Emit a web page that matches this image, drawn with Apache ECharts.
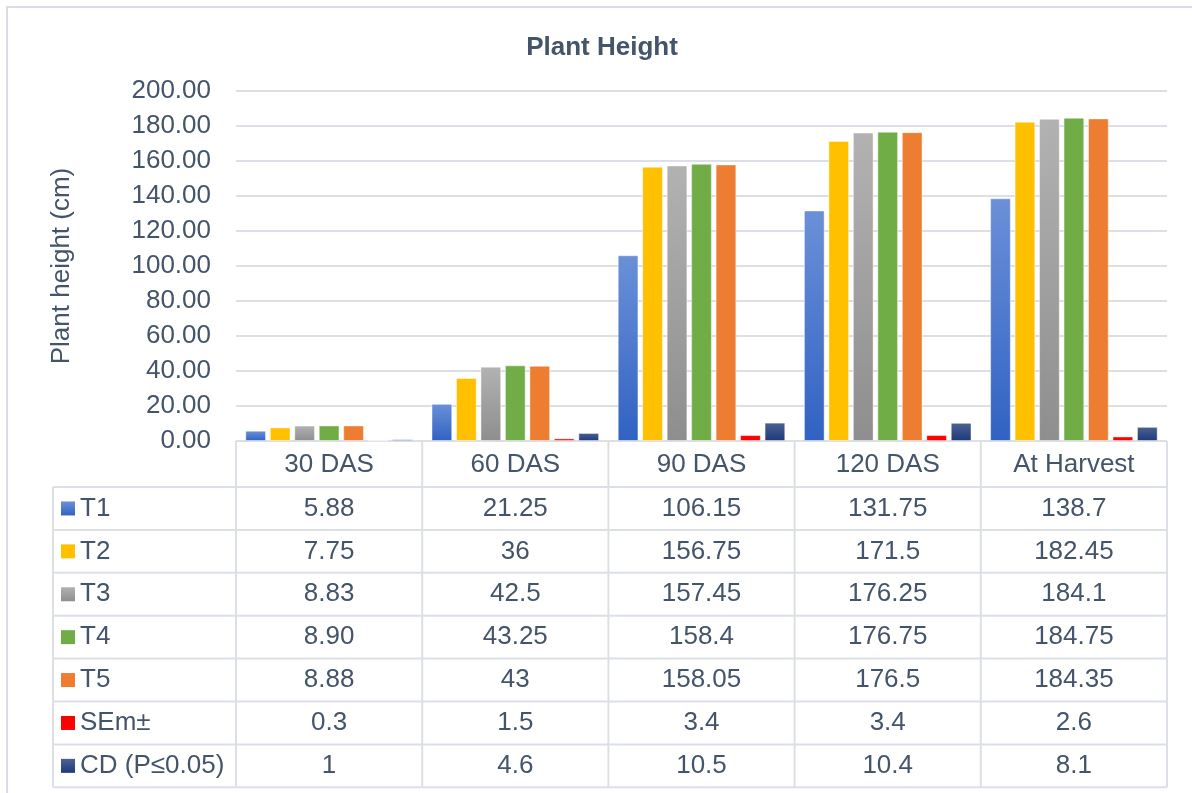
<!DOCTYPE html>
<html>
<head>
<meta charset="utf-8">
<script src="https://cdn.jsdelivr.net/npm/echarts@6/dist/echarts.min.js"></script>
<style>html,body{margin:0;padding:0;background:#fff;}#c{width:1192px;height:793px;}</style>
</head>
<body>
<div id="c"></div>
<script>
const categories = ['30 DAS', '60 DAS', '90 DAS', '120 DAS', 'At Harvest'];
const seriesNames = ['T1', 'T2', 'T3', 'T4', 'T5', 'SEm±', 'CD (P≤0.05)'];
const t1 = [5.88, 21.25, 106.15, 131.75, 138.7];
const t2 = [7.75, 36, 156.75, 171.5, 182.45];
const t3 = [8.83, 42.5, 157.45, 176.25, 184.1];
const t4 = [8.90, 43.25, 158.4, 176.75, 184.75];
const t5 = [8.88, 43, 158.05, 176.5, 184.35];
const sem = [0.3, 1.5, 3.4, 3.4, 2.6];
const cd = [1, 4.6, 10.5, 10.4, 8.1];
const yTicks = [0, 20, 40, 60, 80, 100, 120, 140, 160, 180, 200];
// display text in the data table where Excel kept trailing zeros
const t4Text = ['8.90', '43.25', '158.4', '176.75', '184.75'];

const allData = [t1, t2, t3, t4, t5, sem, cd];
const tableText = allData.map((arr, i) => i === 3 ? t4Text : arr.map(v => String(v)));

function grad(top, bottom) {
  return new echarts.graphic.LinearGradient(0, 0, 0, 1, [
    { offset: 0, color: top }, { offset: 1, color: bottom }
  ]);
}
const colors = [
  grad('#6b90d8', '#3162c2'),
  '#FFC000',
  grad('#b2b2b2', '#8e8e8e'),
  '#70AD47',
  '#ED7D31',
  '#FF0000',
  grad('#4d6293', '#1e3a7a')
];

const W = 1192, H = 793;
const gLeft = 236, gRight = 25, gTop = 91, gBottom = 352;
const plotRight = W - gRight;
const axisY = H - gBottom;
const headerH = 46;
const rowH = 42.9;
const tableLeft = 53;
const txtColor = '#44546A';
const lineColor = '#DCE0E6';
const fs = 26;
const ff = '"Liberation Sans", Arial, sans-serif';

const chart = echarts.init(document.getElementById('c'));

const graphics = [];
graphics.push({ type: 'rect', shape: { x: 7, y: 7, width: 1300, height: 900 }, style: { fill: 'none', stroke: '#D9DDE3', lineWidth: 2 }, silent: true });
const colW = (plotRight - gLeft) / categories.length;
const tableTop = axisY + headerH;
const tableBottom = tableTop + rowH * seriesNames.length;
for (let c = 0; c <= categories.length; c++) {
  const x = gLeft + c * colW;
  graphics.push({ type: 'line', shape: { x1: x, y1: axisY, x2: x, y2: tableBottom }, style: { stroke: lineColor, lineWidth: 2 }, silent: true });
}
graphics.push({ type: 'line', shape: { x1: gLeft, y1: axisY, x2: plotRight, y2: axisY }, style: { stroke: lineColor, lineWidth: 2 }, silent: true });
graphics.push({ type: 'line', shape: { x1: tableLeft, y1: tableTop, x2: tableLeft, y2: tableBottom }, style: { stroke: lineColor, lineWidth: 2 }, silent: true });
for (let r = 0; r <= seriesNames.length; r++) {
  const y = tableTop + r * rowH;
  graphics.push({ type: 'line', shape: { x1: tableLeft, y1: y, x2: plotRight, y2: y }, style: { stroke: lineColor, lineWidth: 2 }, silent: true });
}
seriesNames.forEach((name, r) => {
  const cy = tableTop + r * rowH + rowH / 2;
  graphics.push({ type: 'rect', shape: { x: tableLeft + 8, y: cy - 7, width: 14, height: 14 }, style: { fill: colors[r] }, silent: true });
  graphics.push({ type: 'text', x: tableLeft + 27, y: cy, style: { text: name, font: fs + 'px ' + ff, fill: txtColor, textAlign: 'left', textVerticalAlign: 'middle' }, silent: true });
  tableText[r].forEach((t, c) => {
    graphics.push({ type: 'text', x: gLeft + c * colW + colW / 2, y: cy, style: { text: t, font: fs + 'px ' + ff, fill: txtColor, textAlign: 'center', textVerticalAlign: 'middle' }, silent: true });
  });
});

chart.setOption({
  animation: false,
  backgroundColor: '#fff',
  title: {
    text: 'Plant Height', left: 597, top: 30, textAlign: 'center',
    textStyle: { fontSize: 26, fontWeight: 'bold', color: txtColor, fontFamily: ff }
  },
  grid: { left: gLeft, right: gRight, top: gTop, bottom: gBottom, containLabel: false },
  xAxis: {
    type: 'category', data: categories,
    axisLine: { show: false }, axisTick: { show: false },
    axisLabel: { fontSize: fs, color: txtColor, margin: 11, fontFamily: ff }
  },
  yAxis: {
    type: 'value', min: yTicks[0], max: yTicks[yTicks.length - 1], interval: yTicks[1] - yTicks[0],
    name: 'Plant height (cm)', nameLocation: 'middle', nameGap: 161,
    nameTextStyle: { fontSize: fs, color: txtColor, fontFamily: ff },
    axisLine: { show: false }, axisTick: { show: false },
    axisLabel: { fontSize: fs, color: txtColor, margin: 25, formatter: v => v.toFixed(2), fontFamily: ff },
    splitLine: { lineStyle: { color: lineColor, width: 2 } }
  },
  series: seriesNames.map((name, i) => ({
    name, type: 'bar', data: allData[i],
    barGap: '18%', barCategoryGap: '10%',
    itemStyle: { color: colors[i], borderColor: 'rgba(255,255,255,0.45)', borderWidth: 1 }
  })),
  graphic: graphics
});
</script>
</body>
</html>
